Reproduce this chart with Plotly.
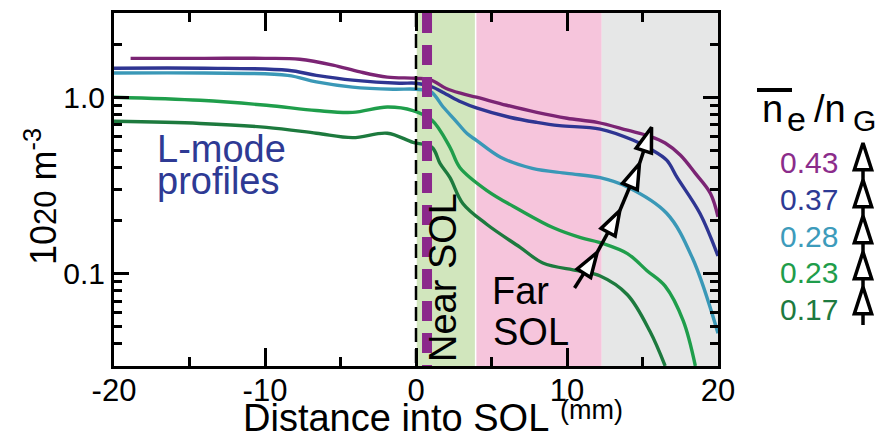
import plotly.graph_objects as go

W, H = 885, 432
FONT = "Liberation Sans, Arial, sans-serif"

# plot-area edges in pixels (figure is drawn with zero margins)
PL, PR, PT, PB = 114, 718, 13, 366

# ---- density profiles (1e20 m^-3) vs distance into SOL (mm) ----
x_043 = [-18.9, -14, -10, -7.7, -5.5, -3.7, -1.9, 0, 1, 2, 3, 4, 6, 8, 10, 12, 14, 15.5, 16.5, 17.5, 18.5, 19.5, 20]
y_043 = [1.66, 1.66, 1.66, 1.64, 1.52, 1.39, 1.30, 1.28, 1.25, 1.12, 1.05, 1.0, 0.90, 0.82, 0.76, 0.72, 0.65, 0.60, 0.55, 0.47, 0.37, 0.285, 0.21]

x_037 = [-20, -14, -8.5, -6.6, -4.2, -1.1, 0, 1, 2, 3, 4, 6.2, 8, 9.5, 12.2, 14.4, 15.5, 16.6, 17.3, 18.8, 20]
y_037 = [1.46, 1.46, 1.42, 1.33, 1.25, 1.20, 1.20, 1.15, 1.04, 0.94, 0.87, 0.77, 0.72, 0.69, 0.66, 0.57, 0.51, 0.44, 0.35, 0.22, 0.126]

x_028 = [-20, -14, -8.5, -6.6, -4.2, -1.5, 0, 1, 1.8, 2.6, 3.4, 4, 5.6, 7.7, 10, 12.2, 14, 16.6, 18.3, 20]
y_028 = [1.37, 1.37, 1.33, 1.22, 1.14, 1.11, 1.11, 1.07, 0.88, 0.74, 0.62, 0.57, 0.457, 0.395, 0.37, 0.35, 0.31, 0.22, 0.123, 0.046]

x_023 = [-20, -14.3, -9.9, -6.6, -4.2, -1.9, -0.2, 1.06, 2.25, 2.9, 4.7, 6.9, 9.1, 10.9, 12.4, 14, 15.3, 16.5, 17.7, 18.5]
y_023 = [1.0, 0.96, 0.90, 0.84, 0.82, 0.88, 0.84, 0.74, 0.52, 0.40, 0.296, 0.229, 0.182, 0.16, 0.148, 0.13, 0.104, 0.085, 0.054, 0.030]

x_017 = [-20, -14.3, -9.9, -6.6, -4.2, -1.9, -0.2, 1.06, 1.6, 2.25, 3.1, 4.7, 6.9, 8.4, 10.7, 12.2, 14, 15.5, 16.5]
y_017 = [0.73, 0.71, 0.675, 0.625, 0.59, 0.625, 0.555, 0.52, 0.42, 0.35, 0.25, 0.19, 0.141, 0.115, 0.104, 0.097, 0.076, 0.047, 0.030]

fractions = ["0.43", "0.37", "0.28", "0.23", "0.17"]
line_colors = ["#7b2474", "#2e3592", "#3a98b7", "#1f9e4b", "#1d7a3e"]
text_colors = ["#8b2c8b", "#2e3a94", "#3d9bbb", "#1f9d4b", "#1e7a3f"]
profiles = [(x_043, y_043), (x_037, y_037), (x_028, y_028), (x_023, y_023), (x_017, y_017)]

# SOL regions: (start mm, end mm, fill)
regions = [(0.05, 3.9, "#d1e6bd"), (4.0, 12.3, "#f6c5dc"), (12.3, 20, "#e6e7e7")]
separatrix_x = 0.0
probe_x = 0.73

# density-scan arrow drawn across the profiles
arrow_x = [10.5, 12.0, 13.5, 14.8, 15.6]
arrow_y = [0.083, 0.132, 0.228, 0.42, 0.676]

x_ticks = [-20, -10, 0, 10, 20]
x_ticklabels = ["-20", "-10", "0", "10", "20"]
x_minor = [-15, -5, 5, 15]
y_ticks = [0.1, 1.0]
y_ticklabels = ["0.1", "1.0"]
y_minor = [0.03, 0.04, 0.05, 0.06, 0.07, 0.08, 0.09, 0.2, 0.3, 0.4, 0.5, 0.6, 0.7, 0.8, 0.9, 2, 3]


def fx(px):
    return px / W


def fy(py):
    return 1 - py / H


fig = go.Figure()

for (xs, ys), c, lab in zip(profiles, line_colors, fractions):
    fig.add_trace(go.Scatter(
        x=xs, y=ys, mode="lines", name=lab,
        line=dict(color=c, width=3.4, shape="spline", smoothing=1.0),
        showlegend=False, hoverinfo="skip",
    ))

fig.add_trace(go.Scatter(
    x=arrow_x, y=arrow_y, mode="lines+markers",
    line=dict(color="black", width=3.5),
    marker=dict(symbol="arrow", size=[0, 26, 26, 26, 26], angleref="previous",
                color="white", opacity=1, line=dict(color="black", width=3.5)),
    showlegend=False, hoverinfo="skip",
))

# legend arrow in pixel space on an overlay axis pair
leg_arrow_y = [325, 287, 252, 216, 180, 143]
fig.add_trace(go.Scatter(
    x=[863] * len(leg_arrow_y), y=leg_arrow_y, mode="lines+markers",
    xaxis="x2", yaxis="y2",
    line=dict(color="black", width=3.5),
    marker=dict(symbol="arrow", size=[0, 28, 28, 28, 28, 28], angle=0,
                color="white", opacity=1, line=dict(color="black", width=3.5)),
    showlegend=False, hoverinfo="skip", cliponaxis=False,
))

shapes = []
for x0, x1, col in regions:
    shapes.append(dict(type="rect", xref="x", yref="y domain", x0=x0, x1=x1, y0=0, y1=1,
                       fillcolor=col, line=dict(width=0), layer="below"))
shapes.append(dict(type="line", xref="x", yref="y domain", x0=separatrix_x, x1=separatrix_x,
                   y0=1, y1=0, line=dict(color="black", width=2.5, dash="14px,7px"), layer="above"))
shapes.append(dict(type="line", xref="x", yref="y domain", x0=probe_x, x1=probe_x,
                   y0=1, y1=0, line=dict(color="#8b288b", width=10, dash="20px,12px"), layer="above"))
# overline on n_e
shapes.append(dict(type="line", xref="paper", yref="paper", x0=fx(757), x1=fx(792),
                   y0=fy(90), y1=fy(90), line=dict(color="black", width=4)))


def ann(text, x, y, size, color="black", xanchor="center", angle=0):
    return dict(text=text, x=fx(x), y=fy(y), xref="paper", yref="paper", showarrow=False,
                font=dict(size=size, color=color, family=FONT),
                xanchor=xanchor, yanchor="middle", textangle=angle)


annotations = [
    ann("L-mode", 155, 149, 38, "#2e3a94", "left"),
    ann("profiles", 155, 181, 38, "#2e3a94", "left"),
    ann("Near SOL", 443, 278, 38, angle=-90),
    ann("Far", 490, 291, 38, xanchor="left"),
    ann("SOL", 491, 332, 38, xanchor="left"),
    ann("Distance into SOL", 241, 418, 38, xanchor="left"),
    ann("(mm)", 558, 410, 27, xanchor="left"),
    ann("10<span style='font-size:31px'>20</span> m<sup>-3</sup>", 41, 197, 36, angle=-90),
    ann("n", 760, 109, 38, xanchor="left"),
    ann("e", 785, 119, 34, xanchor="left"),
    ann("/n", 812, 109, 38, xanchor="left"),
    ann("G", 851, 121, 30, xanchor="left"),
]
for i, (lab, col) in enumerate(zip(fractions, text_colors)):
    annotations.append(ann(lab, 840, [162, 199, 236, 272, 309][i], 30, col, "right"))

fig.update_layout(
    width=W, height=H,
    margin=dict(l=0, r=0, t=0, b=0, pad=0, autoexpand=False),
    paper_bgcolor="white", plot_bgcolor="rgba(0,0,0,0)",
    font=dict(family=FONT, color="black"),
    shapes=shapes, annotations=annotations,
    xaxis=dict(
        domain=[fx(PL), fx(PR)], range=[-20, 20], automargin=False,
        tickvals=x_ticks, ticktext=x_ticklabels,
        ticks="inside", ticklen=18, tickwidth=2.5, tickcolor="black",
        minor=dict(tickvals=x_minor, ticks="inside", ticklen=9, tickwidth=2.5, tickcolor="black"),
        showline=True, linecolor="black", linewidth=3, mirror="allticks",
        showgrid=False, zeroline=False, ticklabelstandoff=-5,
        tickfont=dict(size=31, color="black", family=FONT),
    ),
    yaxis=dict(
        domain=[fy(PB), fy(PT)], type="log", range=[-1.523, 0.477], automargin=False,
        tickvals=y_ticks, ticktext=y_ticklabels, ticks="inside", ticklen=15, tickwidth=2.5, tickcolor="black",
        minor=dict(tickvals=y_minor, ticks="inside", ticklen=8, tickwidth=2.5, tickcolor="black"),
        showline=True, linecolor="black", linewidth=3, mirror="allticks",
        showgrid=False, zeroline=False,
        tickfont=dict(size=30, color="black", family=FONT),
    ),
    xaxis2=dict(domain=[0, 1], range=[0, W], visible=False, anchor="y2", automargin=False),
    yaxis2=dict(domain=[0, 1], range=[H, 0], visible=False, anchor="x2", automargin=False),
)

fig.write_html("out.html")
